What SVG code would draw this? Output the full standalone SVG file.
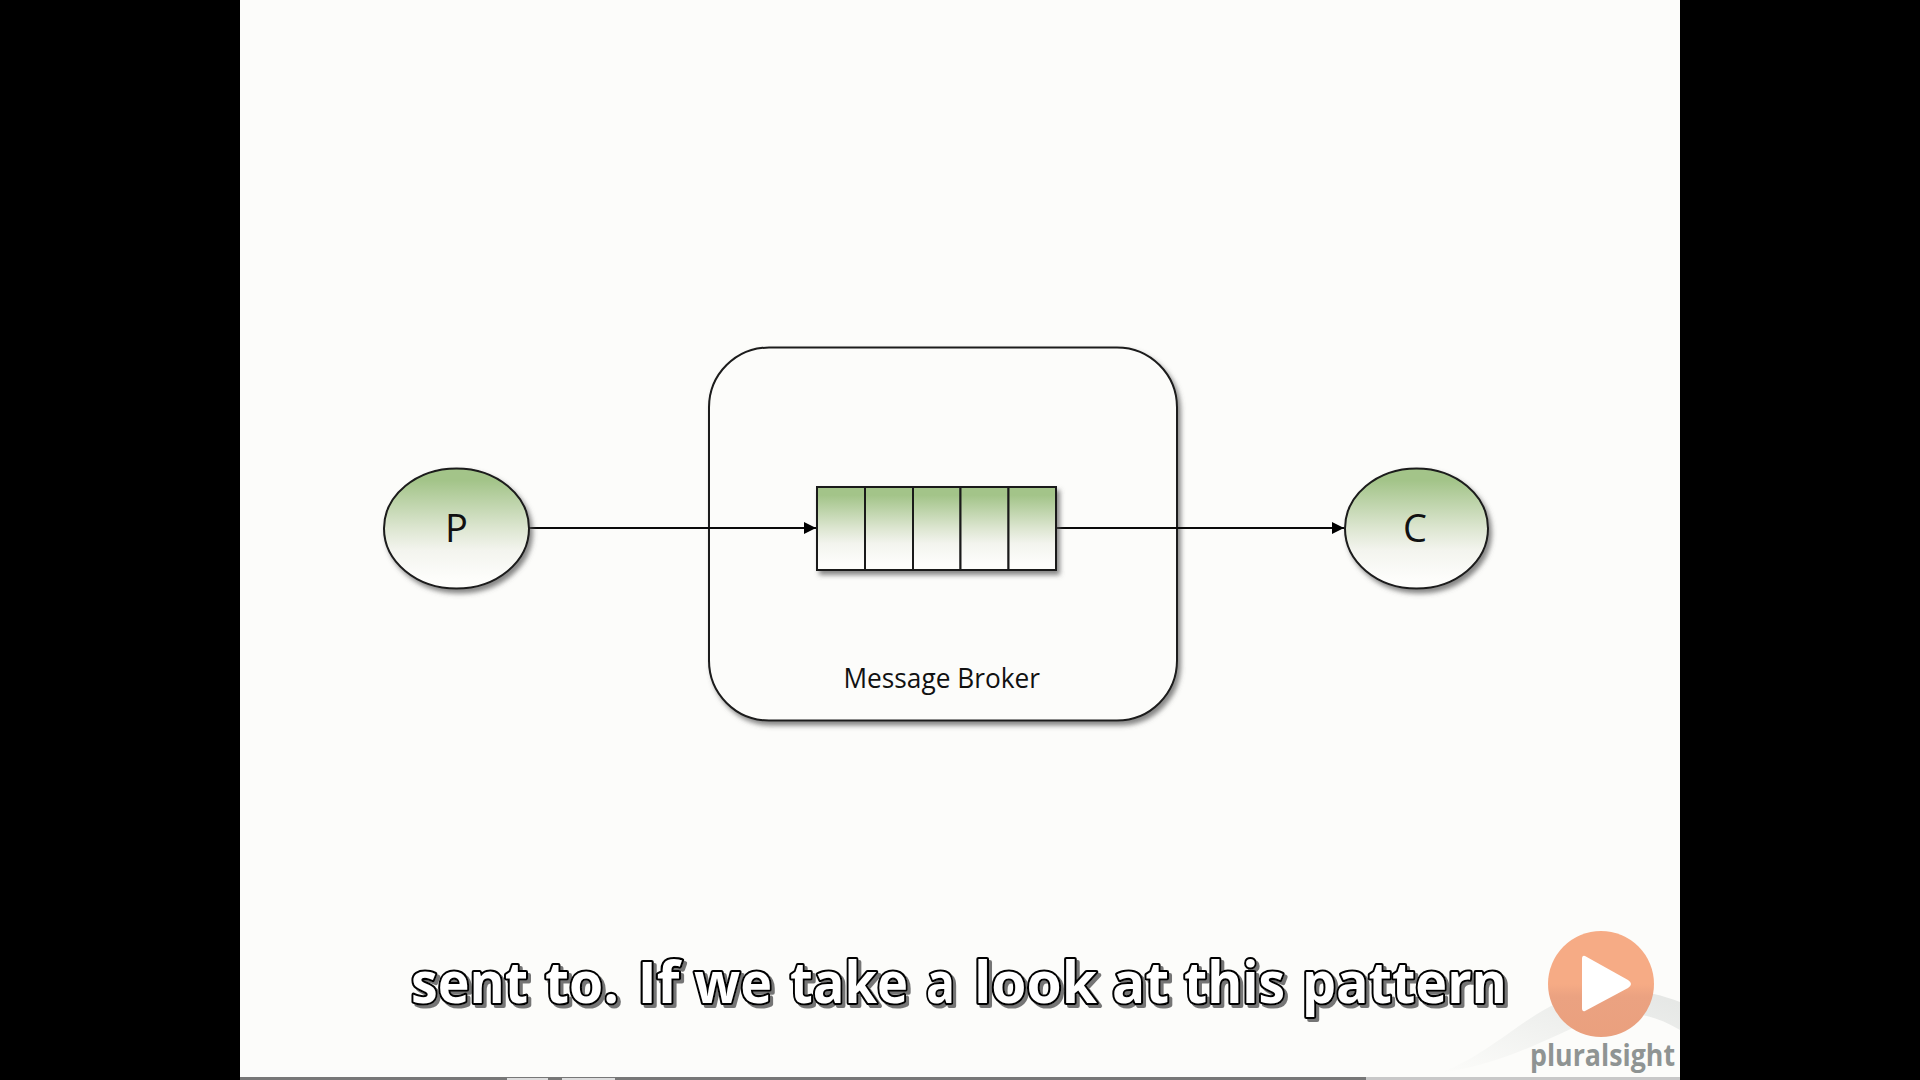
<svg xmlns="http://www.w3.org/2000/svg" width="1920" height="1080" viewBox="0 0 1920 1080">
<style>
.ln{fill:none;stroke:#0a0a0a;stroke-width:2}
.nd{stroke:#1a1a1a;stroke-width:2}
.lb{font-family:"Open Sans","Noto Sans",sans-serif;fill:#111}
.cap{font-family:"Open Sans","Noto Sans",sans-serif;font-weight:700;font-size:56.5px;fill:#fff;stroke:#000;stroke-width:4.2px;stroke-linejoin:round;paint-order:stroke}
</style>
<defs>
<linearGradient id="g" x1="0" y1="0" x2="0" y2="1"><stop offset="0.1" stop-color="#a3c489"/><stop offset="0.5" stop-color="#dde6d1"/><stop offset="0.68" stop-color="#f3f4ee"/><stop offset="0.92" stop-color="#fdfdfb"/></linearGradient>
<linearGradient id="o" x1="0" y1="0" x2="0" y2="1"><stop offset="0.5" stop-color="#f6ab85"/><stop offset="0.62" stop-color="#eba281"/><stop offset="1" stop-color="#eaa07e"/></linearGradient>
<linearGradient id="sw" x1="0" y1="1" x2="1" y2="0"><stop offset="0" stop-color="#fcfcfa"/><stop offset="1" stop-color="#e4e6e4"/></linearGradient>
<filter id="s" x="-10%" y="-10%" width="125%" height="125%"><feDropShadow dx="3" dy="4" stdDeviation="2.5" flood-color="#555" flood-opacity="0.7"/></filter>
<filter id="ts" x="-2%" y="-10%" width="104%" height="125%"><feDropShadow dx="3" dy="3" stdDeviation="0.6" flood-color="#666" flood-opacity="0.9"/></filter>
<marker id="a" markerUnits="userSpaceOnUse" markerWidth="13" markerHeight="12" refX="12" refY="6" orient="auto"><path d="M0 0L12 6L0 12Z" fill="#000"/></marker>
</defs>
<rect width="1920" height="1080" fill="#000"/>
<rect x="240" width="1440" height="1080" fill="#fcfcfa"/>
<g id="footer">
<rect x="240" y="1077" width="1126" height="3" fill="#777"/>
<rect x="1366" y="1077" width="314" height="3" fill="#c8c8c8"/>
<rect x="507" y="1078" width="41" height="2" fill="#ddd"/>
<rect x="562" y="1078" width="53" height="2" fill="#ddd"/>
<path d="M1440 1073C1500 1050 1530 1005 1590 992C1630 985 1660 995 1680 1002V1030C1650 1012 1620 1008 1590 1020C1550 1038 1500 1065 1440 1073Z" fill="url(#sw)"/>
<circle cx="1601" cy="984" r="53" fill="url(#o)"/>
<path d="M1585 956L1628 980Q1634 984 1628 988L1585 1011Q1582 1012 1582 1008V959Q1582 955 1585 956Z" fill="#fff"/>
<text x="1530" y="1066" font-family="'Open Sans','Noto Sans',sans-serif" font-weight="700" font-size="30" fill="#8f9493" textLength="145" lengthAdjust="spacingAndGlyphs">pluralsight</text>
</g>
<g id="broker"><rect class="nd" x="709" y="347.500" width="468" height="373" rx="60" ry="60" fill="#fcfcfa" filter="url(#s)"/><text class="lb" x="843.500" y="688" font-size="26.500" textLength="196.500" lengthAdjust="spacingAndGlyphs">Message Broker</text></g>
<g id="connectors">
<path class="ln" d="M529 528H816" marker-end="url(#a)"/>
<path class="ln" d="M1056 528H1344" marker-end="url(#a)"/>
</g>
<g id="producer"><ellipse class="nd" cx="456.500" cy="528.500" rx="72.500" ry="60" fill="url(#g)" filter="url(#s)"/><text class="lb" x="456.500" y="542" font-size="38" text-anchor="middle">P</text></g>
<g id="queue">
<rect class="nd" x="817" y="487" width="239" height="83" fill="#fff" filter="url(#s)"/>
<rect class="nd" x="817" y="487" width="48" height="83" fill="url(#g)"/>
<rect class="nd" x="865" y="487" width="48" height="83" fill="url(#g)"/>
<rect class="nd" x="913" y="487" width="47.500" height="83" fill="url(#g)"/>
<rect class="nd" x="960.500" y="487" width="48" height="83" fill="url(#g)"/>
<rect class="nd" x="1008.500" y="487" width="47.500" height="83" fill="url(#g)"/>
</g>
<g id="consumer"><ellipse class="nd" cx="1416.500" cy="528.500" rx="71.500" ry="60" fill="url(#g)" filter="url(#s)"/><text class="lb" x="1415" y="542" font-size="38" text-anchor="middle">C</text></g>
<text class="cap" y="1003" filter="url(#ts)"><tspan x="411" textLength="117" lengthAdjust="spacingAndGlyphs">sent</tspan> <tspan x="545" textLength="74" lengthAdjust="spacingAndGlyphs">to.</tspan> <tspan x="637.500" textLength="42" lengthAdjust="spacingAndGlyphs">If</tspan> <tspan x="694" textLength="78" lengthAdjust="spacingAndGlyphs">we</tspan> <tspan x="790" textLength="118" lengthAdjust="spacingAndGlyphs">take</tspan> <tspan x="926" textLength="29" lengthAdjust="spacingAndGlyphs">a</tspan> <tspan x="974" textLength="123" lengthAdjust="spacingAndGlyphs">look</tspan> <tspan x="1112" textLength="57" lengthAdjust="spacingAndGlyphs">at</tspan> <tspan x="1184" textLength="101" lengthAdjust="spacingAndGlyphs">this</tspan> <tspan x="1302" textLength="205" lengthAdjust="spacingAndGlyphs">pattern</tspan></text>
</svg>
